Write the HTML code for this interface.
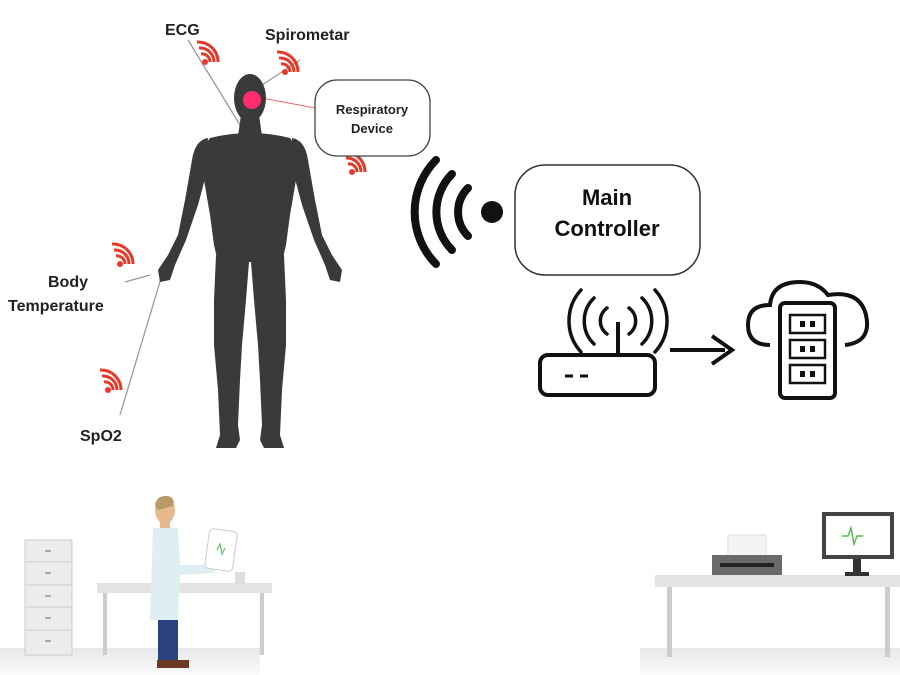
<!DOCTYPE html>
<html><head><meta charset="utf-8"><style>
html,body{margin:0;padding:0;background:#fff;width:900px;height:675px;overflow:hidden}
svg text{font-family:"Liberation Sans",sans-serif}
</style></head><body>
<svg width="900" height="675" viewBox="0 0 900 675" xmlns="http://www.w3.org/2000/svg">
<defs>
<linearGradient id="floor" x1="0" y1="0" x2="0" y2="1"><stop offset="0" stop-color="#e8e8e8"/><stop offset="1" stop-color="#fafafa"/></linearGradient>
<g id="rw">
<path d="M0,0 m-4,-6 a8,8 0 0 1 9,8" fill="none" stroke="#e53a2a" stroke-width="3"/>
<path d="M0,0 m-6,-12 a14,14 0 0 1 15,14" fill="none" stroke="#e53a2a" stroke-width="3"/>
<path d="M0,0 m-8,-18 a20,20 0 0 1 21,20" fill="none" stroke="#e53a2a" stroke-width="3"/>
<circle cx="0" cy="2" r="3" fill="#e53a2a"/>
</g>
</defs>
<rect width="900" height="675" fill="#fff"/>
<rect x="0" y="648" width="260" height="27" fill="url(#floor)"/>
<rect x="640" y="648" width="260" height="27" fill="url(#floor)"/>

<g stroke="#999" stroke-width="1.3" fill="none">
<line x1="188" y1="40" x2="240" y2="125"/>
<line x1="262" y1="85" x2="300" y2="60"/>
<line x1="120" y1="415" x2="165" y2="265"/>
<line x1="150" y1="275" x2="125" y2="282"/>
</g>
<line x1="262" y1="98" x2="315" y2="108" stroke="#e66" stroke-width="1"/>

<!-- human figure -->
<g fill="#3a3a3a">
<ellipse cx="250" cy="98" rx="16" ry="24"/>
<path d="M241,115 L259,115 L262,136 L238,136Z"/>
<!-- torso -->
<path d="M210,138 Q250,128 290,138 Q300,150 296,180 L290,215 L286,245 L282,262 L218,262 L214,245 L210,215 L204,180 Q200,150 210,138Z"/>
<!-- left arm -->
<path d="M208,138 Q195,140 192,160 L185,200 L178,235 L168,255 L158,270 L160,282 L170,280 L175,265 L186,240 L198,205 L206,175Z"/>
<!-- right arm -->
<path d="M292,138 Q305,140 308,160 L315,200 L322,235 L332,255 L342,270 L340,282 L330,280 L325,265 L314,240 L302,205 L294,175Z"/>
<!-- legs -->
<path d="M216,255 L249,262 L246,300 L242,345 L240,380 L238,425 L240,440 L236,448 L216,448 L220,435 L218,390 L214,345 L214,300Z"/>
<path d="M284,255 L251,262 L254,300 L258,345 L260,380 L262,425 L260,440 L264,448 L284,448 L280,435 L282,390 L286,345 L286,300Z"/>
</g>
<circle cx="252" cy="100" r="9" fill="#ff2d6f"/>

<use href="#rw" transform="translate(205,60)"/>
<use href="#rw" transform="translate(285,70)"/>
<use href="#rw" transform="translate(352,170)"/>
<use href="#rw" transform="translate(120,262)"/>
<use href="#rw" transform="translate(108,388)"/>

<text x="165" y="35" font-size="16" font-weight="bold" fill="#222">ECG</text>
<text x="265" y="40" font-size="16" font-weight="bold" fill="#222">Spirometar</text>
<text x="48" y="287" font-size="16" font-weight="bold" fill="#222">Body</text>
<text x="8" y="311" font-size="16" font-weight="bold" fill="#222">Temperature</text>
<text x="80" y="441" font-size="16" font-weight="bold" fill="#222">SpO2</text>
<rect x="315" y="80" width="115" height="76" rx="22" fill="#fff" stroke="#444" stroke-width="1.3"/>
<text x="372" y="114" font-size="13" font-weight="bold" fill="#222" text-anchor="middle">Respiratory</text>
<text x="372" y="133" font-size="13" font-weight="bold" fill="#222" text-anchor="middle">Device</text>

<circle cx="492" cy="212" r="11" fill="#111"/>
<g fill="none" stroke="#111" stroke-width="8" stroke-linecap="round">
<path d="M468,188 a34,34 0 0 0 0,48"/>
<path d="M452,174 a54,54 0 0 0 0,76"/>
<path d="M436,160 a74,74 0 0 0 0,104"/>
</g>

<rect x="515" y="165" width="185" height="110" rx="30" fill="#fff" stroke="#333" stroke-width="1.5"/>
<text x="607" y="205" font-size="22" font-weight="bold" fill="#111" text-anchor="middle">Main</text>
<text x="607" y="236" font-size="22" font-weight="bold" fill="#111" text-anchor="middle">Controller</text>

<rect x="540" y="355" width="115" height="40" rx="8" fill="#fff" stroke="#111" stroke-width="4"/>
<line x1="565" y1="376" x2="573" y2="376" stroke="#111" stroke-width="3"/>
<line x1="580" y1="376" x2="588" y2="376" stroke="#111" stroke-width="3"/>
<line x1="618" y1="355" x2="618" y2="322" stroke="#111" stroke-width="4"/>
<g fill="none" stroke="#111" stroke-width="3.5" stroke-linecap="round">
<path d="M607,308 a16,16 0 0 0 0,26"/><path d="M629,308 a16,16 0 0 1 0,26"/>
<path d="M594,298 a32,32 0 0 0 0,46"/><path d="M642,298 a32,32 0 0 1 0,46"/>
<path d="M581,290 a46,46 0 0 0 0,62"/><path d="M655,290 a46,46 0 0 1 0,62"/>
</g>
<line x1="670" y1="350" x2="725" y2="350" stroke="#111" stroke-width="4"/>
<path d="M712,336 L732,350 L712,364" fill="none" stroke="#111" stroke-width="4"/>

<path d="M770,345 Q748,345 748,325 Q748,305 770,305 Q772,282 800,282 Q818,282 828,295 Q860,290 866,315 Q872,342 845,345" fill="none" stroke="#111" stroke-width="4"/>
<rect x="780" y="303" width="55" height="95" rx="5" fill="#fff" stroke="#111" stroke-width="4"/>
<g fill="none" stroke="#111" stroke-width="2.5">
<rect x="790" y="315" width="35" height="18"/><rect x="790" y="340" width="35" height="18"/><rect x="790" y="365" width="35" height="18"/>
</g>
<g fill="#111"><rect x="800" y="321" width="5" height="6"/><rect x="810" y="321" width="5" height="6"/><rect x="800" y="346" width="5" height="6"/><rect x="810" y="346" width="5" height="6"/><rect x="800" y="371" width="5" height="6"/><rect x="810" y="371" width="5" height="6"/></g>

<rect x="25" y="540" width="47" height="115" fill="#ececec" stroke="#ccc"/>
<g stroke="#ccc"><line x1="25" y1="562" x2="72" y2="562"/><line x1="25" y1="585" x2="72" y2="585"/><line x1="25" y1="607" x2="72" y2="607"/><line x1="25" y1="630" x2="72" y2="630"/></g>
<g fill="#aaa"><rect x="45" y="550" width="6" height="2"/><rect x="45" y="572" width="6" height="2"/><rect x="45" y="595" width="6" height="2"/><rect x="45" y="617" width="6" height="2"/><rect x="45" y="640" width="6" height="2"/></g>
<rect x="97" y="583" width="175" height="10" fill="#e4e4e4"/>
<rect x="103" y="593" width="4" height="62" fill="#ccc"/><rect x="260" y="593" width="4" height="62" fill="#ccc"/>
<rect x="235" y="572" width="10" height="12" fill="#ddd"/>
<ellipse cx="165" cy="510" rx="10" ry="14" fill="#e8b98c"/>
<path d="M155,505 Q157,495 168,496 Q176,498 173,506 L158,510Z" fill="#b89a6a"/>
<rect x="160" y="520" width="10" height="8" fill="#e8b98c"/>
<path d="M153,528 L178,528 L180,565 L215,565 L215,573 L180,575 L178,620 L150,620Z" fill="#dfeef3"/>
<rect x="158" y="620" width="20" height="45" fill="#2c4280"/>
<rect x="157" y="660" width="32" height="8" fill="#6b3a22"/>
<rect x="207" y="530" width="28" height="40" rx="4" fill="#fff" stroke="#ccc" transform="rotate(8 221 550)"/>
<path d="M217,550 l3,-6 l2,10 l3,-6" fill="none" stroke="#6c6" stroke-width="1.2"/>
<rect x="655" y="575" width="245" height="12" fill="#e4e4e4"/>
<rect x="667" y="587" width="5" height="70" fill="#ccc"/><rect x="885" y="587" width="5" height="70" fill="#ccc"/>
<rect x="728" y="535" width="38" height="22" fill="#f4f4f4" stroke="#ddd"/>
<rect x="712" y="555" width="70" height="20" fill="#6a6a6a"/>
<rect x="720" y="563" width="54" height="4" fill="#222"/>
<rect x="822" y="512" width="72" height="47" fill="#444"/>
<rect x="826" y="516" width="64" height="39" fill="#fff"/>
<path d="M842,536 l6,0 l3,-8 l3,16 l3,-8 l6,0" fill="none" stroke="#5b5" stroke-width="1.5"/>
<rect x="853" y="559" width="8" height="14" fill="#333"/><rect x="845" y="572" width="24" height="4" fill="#333"/>
</svg>
</body></html>
